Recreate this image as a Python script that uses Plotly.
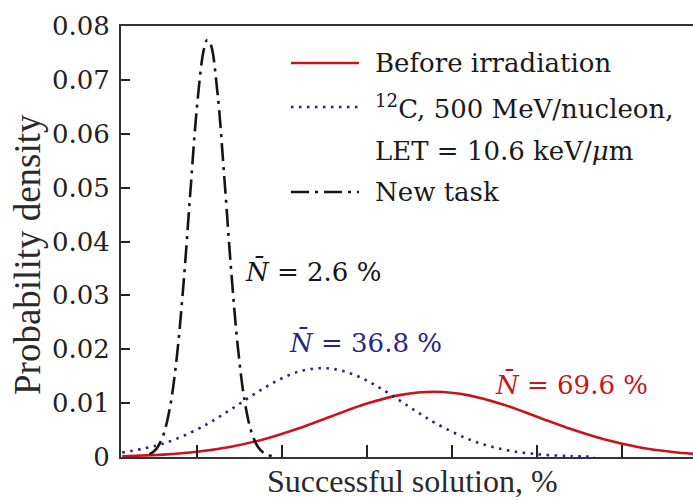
import plotly.graph_objects as go

# ---- data (x in %, y = probability density) ----
before_x = [-22, -10, 0, 10, 20, 30, 40, 50, 60, 70, 80, 90, 100, 110, 120, 130, 140, 146]
before_y = [0.00015, 0.00045, 0.00097, 0.00191, 0.00336, 0.00535, 0.00767, 0.00991, 0.01153,
            0.01210, 0.01144, 0.00974, 0.00748, 0.00518, 0.00323, 0.00181, 0.00092, 0.00058]

carbon_x = [-22, -10, 0, 5, 10, 15, 20, 25, 30, 35, 40, 45, 50, 55, 60, 65, 70, 80, 90, 100, 110, 117]
carbon_y = [0.00082, 0.00247, 0.00509, 0.00686, 0.00884, 0.01092, 0.01291, 0.01462, 0.01585,
            0.01645, 0.01635, 0.01556, 0.01418, 0.01238, 0.01034, 0.00827, 0.00634, 0.00327,
            0.00141, 0.00052, 0.00016, 0.00006]

newtask_x = [-14, -12, -10, -8, -6, -4, -2, 0, 2, 3, 4, 6, 8, 10, 12, 14, 16, 18, 20, 22]
newtask_y = [0.00049, 0.00147, 0.00391, 0.00902, 0.01816, 0.03185, 0.04874, 0.06502, 0.07560,
             0.07740, 0.07665, 0.06776, 0.05221, 0.03507, 0.02054, 0.01049, 0.00467, 0.00181,
             0.00061, 0.00018]

y_ticks = [0, 0.01, 0.02, 0.03, 0.04, 0.05, 0.06, 0.07, 0.08]
y_ticktext = ["0", "0.01", "0.02", "0.03", "0.04", "0.05", "0.06", "0.07", "0.08"]
x_ticks = [0, 25, 50, 75, 100, 125]

legend_names = ["Before irradiation", "<sup>12</sup>C, 500 MeV/nucleon,", "LET = 10.6 keV/<i>μ</i>m", "New task"]
mean_labels = ["<i>N̄</i> = 2.6 %", "<i>N̄</i> = 36.8 %", "<i>N̄</i> = 69.6 %"]
x_title = "Successful solution, %"
y_title = "Probability density"

RED = "#c8141e"
BLUE = "#26267f"
BLACK = "#151515"
DOT = "2.5px,5.5px"
DASHDOT = "18px,6px,3px,6px"

fig = go.Figure()
fig.add_trace(go.Scatter(x=before_x, y=before_y, mode="lines", line=dict(color=RED, width=2.6, shape="spline"),
                         name="Before irradiation", showlegend=False))
fig.add_trace(go.Scatter(x=carbon_x, y=carbon_y, mode="lines", line=dict(color=BLUE, width=2.6, dash=DOT, shape="spline"),
                         name="12C", showlegend=False))
fig.add_trace(go.Scatter(x=newtask_x, y=newtask_y, mode="lines", line=dict(color=BLACK, width=2.6, dash=DASHDOT, shape="spline"),
                         name="New task", showlegend=False))

L, R, T, B = 121, 0, 26, 43
W, H = 693, 500
pw, ph = W - L - R, H - T - B

def px(xp):
    return (xp - L) / pw

def py(yp):
    return (H - B - yp) / ph

serif = "DejaVu Serif"
shapes = []
annotations = []
# manual legend
leg_rows = [(63, RED, "solid"), (107, BLUE, DOT), (192, BLACK, DASHDOT)]
for yp, col, dash in leg_rows:
    shapes.append(dict(type="line", xref="paper", yref="paper", x0=px(291), x1=px(359), y0=py(yp), y1=py(yp),
                       line=dict(color=col, width=2.6, dash=dash)))
for text, yp in zip(legend_names, [63, 107, 151, 192]):
    annotations.append(dict(xref="paper", yref="paper", x=px(373), y=py(yp), xanchor="left", yanchor="middle",
                            text=text, showarrow=False, font=dict(family=serif, size=26, color="#1a1a1a")))

# mean labels
for text, x, y, col in zip(mean_labels, [13.5, 26.5, 87.0], [0.0345, 0.0212, 0.0134], [BLACK, BLUE, RED]):
    annotations.append(dict(x=x, y=y, xanchor="left", yanchor="middle", text=text, showarrow=False,
                            font=dict(family=serif, size=26, color=col)))

# axis titles
annotations.append(dict(xref="paper", yref="paper", x=px(412), y=py(481), xanchor="center", yanchor="middle",
                        text=x_title, showarrow=False,
                        font=dict(family="Liberation Serif", size=32, color="#2a2a2a")))
annotations.append(dict(xref="paper", yref="paper", x=px(27), y=py(255), xanchor="center", yanchor="middle",
                        text=y_title, textangle=-90, showarrow=False,
                        font=dict(family="Liberation Serif", size=37, color="#2a2a2a")))

fig.update_layout(
    width=W, height=H,
    margin=dict(l=L, r=R, t=T, b=B, autoexpand=False),
    paper_bgcolor="white", plot_bgcolor="white",
    shapes=shapes, annotations=annotations,
    showlegend=False,
    xaxis=dict(range=[-22.35, 145.9], tickvals=x_ticks, showticklabels=False, ticks="inside", ticklen=12,
               tickwidth=2, tickcolor="#222", showline=True, linewidth=2, linecolor="#333", mirror=True,
               showgrid=False, zeroline=False, automargin=False),
    yaxis=dict(range=[0, 0.08], tickvals=y_ticks, ticktext=y_ticktext, ticks="inside", ticklen=9,
               tickwidth=2, tickcolor="#222", showline=True, linewidth=2, linecolor="#333", mirror=False,
               showgrid=False, zeroline=False, ticklabelstandoff=4, automargin=False,
               tickfont=dict(family=serif, size=26, color="#222")),
)

fig.write_html("out.html", config={"displayModeBar": False},
               post_script="document.body.style.margin='0';document.body.style.overflow='hidden';")
